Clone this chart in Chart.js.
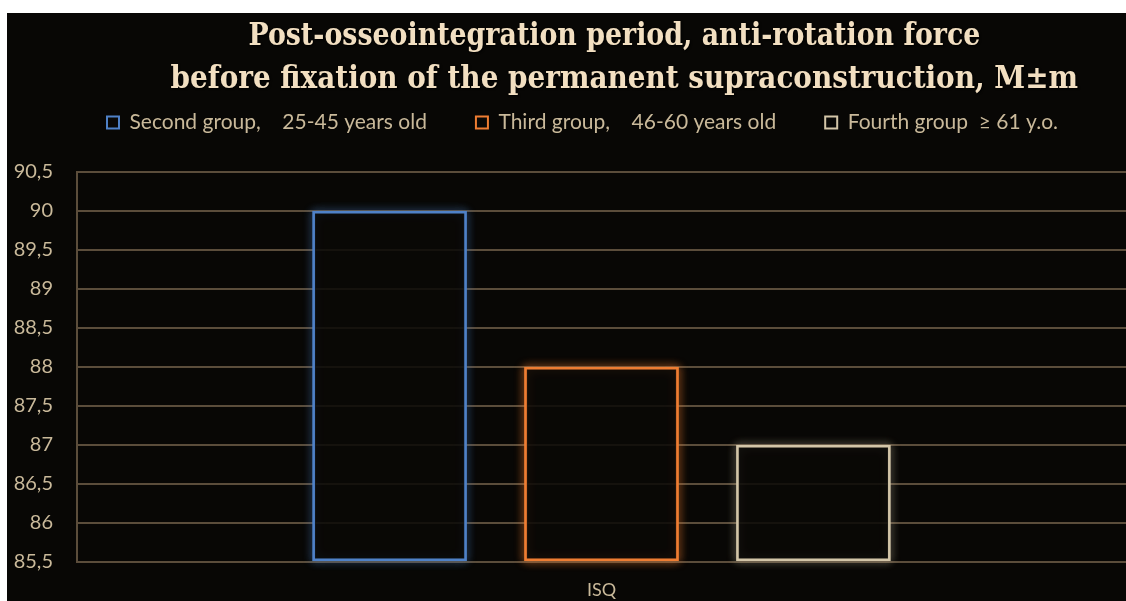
<!DOCTYPE html>
<html>
<head>
<meta charset="utf-8">
<script src="https://cdn.jsdelivr.net/npm/chart.js@4.4.1/dist/chart.umd.min.js"></script>
<style>
  html, body { margin:0; padding:0; background:#ffffff; width:1126px; height:601px; overflow:hidden; }
  #frame { position:absolute; left:7px; top:13px; width:1119px; height:588px; background:#080705; }
  #wrap { position:absolute; left:0; top:0; width:1119px; height:588px; }
  .tl { position:absolute; white-space:nowrap; font-family:"DejaVu Serif Condensed","DejaVu Serif",serif; font-weight:bold;
        font-size:31px; line-height:31px; color:#f2dfc1; transform-origin:center top; text-shadow:1px 1px 2px #000; }
</style>
</head>
<body>
<div id="frame">
  <div id="wrap"><canvas id="c"></canvas></div>
  <div class="tl" id="t1">Post-osseointegration period, anti-rotation force</div>
  <div class="tl" id="t2">before fixation of the permanent supraconstruction, M±m</div>
</div>
<script>
const categories = ['ISQ'];
const seriesNames = ['Second group,    25-45 years old', 'Third group,    46-60 years old', 'Fourth group  \u2265 61 y.o.'];
const secondGroup = [90];
const thirdGroup = [88];
const fourthGroup = [87];
const yTicks = [85.5, 86, 86.5, 87, 87.5, 88, 88.5, 89, 89.5, 90, 90.5];
const yMin = 85.5, yMax = 90.5;

const colors = ['#4f81c7', '#ee7d32', '#d3c5a8'];
const glows = ['rgba(79,129,199,0.7)', 'rgba(238,125,50,0.8)', 'rgba(211,197,168,0.65)'];
const FRAME_X = 7, FRAME_Y = 13;

function placeTitle(id, cx, top, targetW) {
  const el = document.getElementById(id);
  const w = el.offsetWidth;
  const s = targetW / w;
  el.style.left = (cx - FRAME_X - w / 2) + 'px';
  el.style.top = (top - FRAME_Y) + 'px';
  el.style.transform = 'scaleX(' + s + ')';
}
placeTitle('t1', 614, 19, 732);
placeTitle('t2', 624, 62, 908);

// soft glow around each bar, drawn from the bar elements' own geometry
const glowPlugin = {
  id: 'glow',
  beforeDatasetsDraw(chart) {
    const ctx = chart.ctx;
    chart.data.datasets.forEach((ds, i) => {
      const meta = chart.getDatasetMeta(i);
      meta.data.forEach(bar => {
        const p = bar.getProps(['x', 'y', 'base', 'width'], true);
        const l = p.x - p.width / 2, t = Math.min(p.y, p.base), h = Math.abs(p.base - p.y);
        ctx.save();
        ctx.shadowColor = glows[i];
        ctx.shadowBlur = 10;
        ctx.strokeStyle = glows[i];
        ctx.lineWidth = 3;
        ctx.strokeRect(l + 1.5, t + 1.5, p.width - 3, h - 3);
        ctx.strokeRect(l + 1.5, t + 1.5, p.width - 3, h - 3);
        ctx.restore();
      });
    });
  }
};

const legendTweak = {
  id: 'legendTweak',
  afterInit(chart) {
    const lg = chart.legend;
    const f = lg.fit;
    lg.fit = function() { f.call(this); this.height = 109; };
  },
  afterLayout(chart) {
    const lg = chart.legend;
    lg.left = 16; lg.right = chart.width + 16;
  }
};

const dsBase = { borderWidth: 2.5, borderSkipped: false, base: yMin, backgroundColor: 'rgba(9,8,6,0.86)', categoryPercentage: 0.606, barPercentage: 0.728 };

new Chart(document.getElementById('c'), {
  type: 'bar',
  data: {
    labels: categories,
    datasets: [
      Object.assign({ label: seriesNames[0], data: secondGroup, borderColor: colors[0] }, dsBase),
      Object.assign({ label: seriesNames[1], data: thirdGroup, borderColor: colors[1] }, dsBase),
      Object.assign({ label: seriesNames[2], data: fourthGroup, borderColor: colors[2] }, dsBase)
    ]
  },
  options: {
    responsive: true,
    maintainAspectRatio: false,
    animation: false,
    layout: { padding: { top: 50, left: 0, right: 0, bottom: 0 } },
    plugins: {
      title: { display: false },
      tooltip: { enabled: false },
      legend: {
        position: 'top',
        labels: {
          color: '#c9b99a',
          font: { family: 'Lato', size: 21 },
          boxWidth: 12, boxHeight: 12,
          padding: 49,
          generateLabels(chart) {
            const items = Chart.defaults.plugins.legend.labels.generateLabels(chart);
            items.forEach(it => { it.lineWidth = 2; it.fillStyle = '#090806'; });
            return items;
          }
        }
      }
    },
    scales: {
      x: {
        grid: { display: false },
        border: { display: false },
        ticks: { color: '#c9b99a', font: { family: 'Lato', size: 18 }, padding: 9 },
        afterFit(s) { s.height = 39; }
      },
      y: {
        min: yMin, max: yMax,
        afterBuildTicks(s) { s.ticks = yTicks.map(v => ({ value: v })); },
        grid: { color: '#5b4d3b', lineWidth: 2, drawTicks: false },
        border: { display: true, color: '#5b4d3b', width: 2 },
        ticks: {
          color: '#c9b99a', font: { family: 'Lato', size: 20 }, padding: 24,
          callback: v => String(v).replace('.', ',')
        },
        afterFit(s) { s.width = 70; }
      }
    }
  },
  plugins: [glowPlugin, legendTweak]
});
</script>
</body>
</html>
